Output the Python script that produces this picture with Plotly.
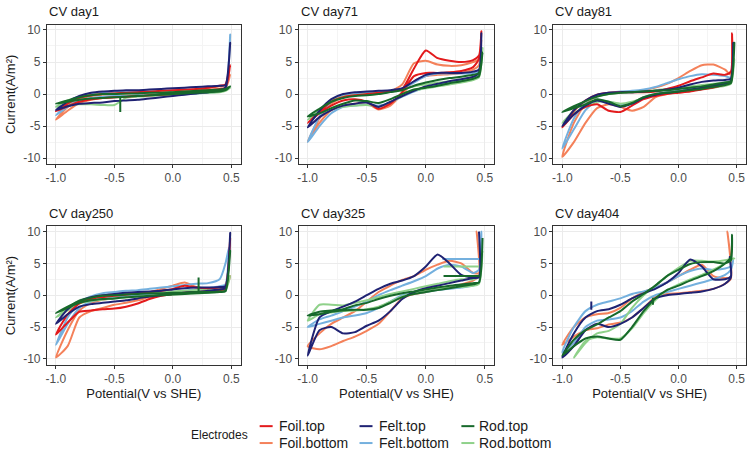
import plotly.graph_objects as go

# ---------------- data ----------------
SERIES = ["Foil.top", "Foil.bottom", "Felt.top", "Felt.bottom", "Rod.top", "Rod.bottom"]
COLORS = ["#E31A1C", "#F4815A", "#1F2273", "#74B0DE", "#17692B", "#8FD18A"]
PANELS = ["CV day1", "CV day71", "CV day81", "CV day250", "CV day325", "CV day404"]

POT = [-1.0, -0.9, -0.8, -0.7, -0.6, -0.5, -0.4, -0.3, -0.2, -0.1, 0.0, 0.1, 0.2, 0.3, 0.4, 0.45]

X_TICKS = [-1.0, -0.5, 0.0, 0.5]
X_TICKTEXT = ["-1.0", "-0.5", "0.0", "0.5"]
Y_TICKS = [-10, -5, 0, 5, 10]
Y_TICKTEXT = ["-10", "-5", "0", "5", "10"]

# forward (anodic) branch values at POT, per series
DAY1_FWD = [
    [-2.7, -1.5, -0.6, -0.2, 0.0, 0.1, 0.2, 0.3, 0.4, 0.5, 0.6, 0.7, 0.8, 1.0, 1.3, 1.5],
    [-4.0, -2.0, -0.8, -0.3, -0.1, 0.0, 0.1, 0.2, 0.3, 0.4, 0.5, 0.6, 0.7, 0.9, 1.2, 1.4],
    [-2.5, -1.2, -0.3, 0.2, 0.4, 0.5, 0.6, 0.6, 0.7, 0.8, 0.9, 1.0, 1.1, 1.2, 1.3, 1.4],
    [-3.3, -1.6, -0.5, 0.1, 0.3, 0.3, 0.3, 0.3, 0.3, 0.3, 0.3, 0.3, 0.4, 0.5, 0.7, 0.9],
    [-1.5, -1.0, -0.5, -0.2, 0.0, 0.0, 0.1, 0.1, 0.2, 0.2, 0.3, 0.4, 0.5, 0.6, 0.7, 0.8],
    [-2.0, -1.0, -0.4, -0.1, 0.0, 0.1, 0.1, 0.2, 0.2, 0.3, 0.3, 0.4, 0.5, 0.6, 0.7, 0.8],
]
DAY1_REV = [
    [-2.7, -1.9, -1.2, -0.8, -0.6, -0.5, -0.4, -0.3, -0.2, -0.1, 0.0, 0.2, 0.4, 0.6, 0.8, 1.0],
    [-4.0, -2.6, -1.4, -0.9, -0.6, -0.5, -0.4, -0.3, -0.2, -0.1, 0.0, 0.1, 0.3, 0.5, 0.7, 0.9],
    [-2.5, -1.9, -1.5, -1.4, -1.3, -1.1, -1.0, -0.9, -0.7, -0.5, -0.3, -0.1, 0.1, 0.3, 0.6, 1.0],
    [-3.3, -2.0, -1.0, -0.6, -0.4, -0.3, -0.3, -0.2, -0.2, -0.1, -0.1, 0.0, 0.1, 0.2, 0.4, 0.6],
    [-1.5, -1.2, -0.9, -0.7, -0.6, -0.5, -0.4, -0.3, -0.2, -0.1, 0.0, 0.1, 0.2, 0.3, 0.4, 0.6],
    [-2.0, -1.7, -1.6, -1.6, -1.7, -1.7, -0.6, -0.4, -0.3, -0.2, -0.1, 0.0, 0.1, 0.2, 0.3, 0.5],
]
DAY1_PEAK = [4.5, 3.0, 8.0, 9.3, 1.2, 1.0]
DAY1_VERTEX = [0.49, 0.49, 0.49, 0.49, 0.49, 0.49]

DAY71_FWD = [
    [-4.5, -2.8, -1.2, -0.5, -0.2, 0.0, 0.2, 0.4, 0.8, 4.0, 6.8, 5.6, 5.2, 5.0, 5.3, 6.0],
    [-7.4, -3.8, -1.5, -0.5, -0.2, 0.0, 0.2, 0.4, 1.5, 4.8, 5.2, 4.6, 4.4, 4.5, 5.0, 5.4],
    [-5.2, -2.6, -0.8, 0.0, 0.3, 0.4, 0.5, 0.6, 0.9, 2.0, 3.0, 3.3, 3.3, 3.3, 3.5, 3.8],
    [-7.5, -3.5, -1.2, -0.3, 0.0, 0.2, 0.3, 0.5, 0.8, 1.8, 2.8, 3.2, 3.2, 3.2, 3.3, 3.5],
    [-3.5, -2.3, -1.2, -0.6, -0.3, -0.2, 0.0, 0.3, 0.6, 1.3, 1.8, 2.2, 2.5, 2.7, 3.0, 3.3],
    [-4.0, -2.5, -1.0, -0.4, -0.2, 0.0, 0.2, 0.4, 0.7, 1.2, 1.5, 1.8, 2.0, 2.3, 2.6, 2.9],
]
DAY71_REV = [
    [-4.5, -3.0, -1.8, -1.0, -0.8, -1.2, -2.3, -1.5, 0.3, 2.8, 3.3, 3.3, 3.4, 3.6, 4.2, 5.5],
    [-7.4, -4.5, -2.5, -1.8, -1.5, -1.4, -2.4, -1.8, 0.0, 2.0, 2.8, 3.0, 3.1, 3.3, 3.8, 4.5],
    [-5.2, -3.6, -2.5, -1.8, -1.5, -1.3, -2.0, -1.2, -0.3, 0.5, 1.2, 1.6, 2.0, 2.3, 2.7, 3.3],
    [-7.5, -5.0, -3.0, -2.0, -1.8, -1.6, -1.8, -1.3, -0.4, 0.4, 1.0, 1.4, 1.8, 2.1, 2.5, 3.0],
    [-3.5, -3.0, -2.2, -1.5, -1.0, -1.1, -1.4, -0.8, 0.0, 0.7, 1.0, 1.3, 1.7, 2.0, 2.4, 2.8],
    [-4.0, -3.0, -2.4, -2.0, -1.8, -1.7, -2.0, -1.3, -0.3, 0.5, 0.9, 1.2, 1.5, 1.8, 2.2, 2.6],
]
DAY71_PEAK = [9.8, 8.5, 9.5, 6.0, 6.5, 7.2]
DAY71_VERTEX = [0.47, 0.47, 0.47, 0.47, 0.48, 0.48]

DAY81_FWD = [
    [-5.2, -2.6, -1.0, -0.1, 0.2, 0.3, 0.3, 0.3, 0.4, 0.8, 1.3, 2.0, 2.6, 3.2, 3.0, 3.5],
    [-9.8, -4.5, -1.5, -0.3, 0.1, 0.2, 0.4, 0.6, 1.0, 1.6, 2.5, 3.6, 4.5, 4.6, 3.8, 3.0],
    [-5.0, -2.5, -1.0, -0.1, 0.2, 0.3, 0.3, 0.4, 0.5, 0.7, 1.0, 1.5, 1.9, 2.1, 2.2, 2.4],
    [-8.5, -3.8, -1.3, -0.2, 0.2, 0.4, 0.5, 0.7, 1.1, 1.7, 2.3, 2.8, 3.1, 3.0, 2.8, 2.6],
    [-2.8, -1.9, -1.1, -0.4, 0.0, 0.2, 0.3, 0.4, 0.5, 0.6, 0.8, 1.0, 1.2, 1.5, 1.8, 2.0],
    [-4.5, -2.6, -1.2, -0.4, 0.0, 0.2, 0.3, 0.4, 0.6, 0.8, 1.0, 1.2, 1.4, 1.6, 1.8, 2.0],
]
DAY81_REV = [
    [-5.2, -3.2, -2.0, -1.6, -2.6, -2.8, -1.8, -0.8, -0.3, 0.0, 0.2, 0.4, 0.7, 1.0, 1.5, 2.0],
    [-9.8, -7.5, -4.5, -2.2, -1.6, -2.0, -2.6, -2.0, -0.5, 0.0, 0.3, 0.6, 1.0, 1.3, 1.7, 2.2],
    [-5.0, -3.2, -1.8, -1.0, -1.5, -2.0, -1.5, -0.6, -0.1, 0.2, 0.4, 0.7, 1.0, 1.3, 1.6, 2.0],
    [-8.5, -5.5, -2.5, -1.0, -1.2, -1.6, -1.3, -0.5, 0.0, 0.3, 0.5, 0.8, 1.1, 1.4, 1.8, 2.1],
    [-2.8, -2.2, -1.6, -0.8, -1.2, -1.9, -1.4, -0.5, 0.0, 0.2, 0.4, 0.6, 0.8, 1.1, 1.4, 1.7],
    [-4.5, -3.0, -2.0, -1.2, -1.2, -1.5, -1.2, -0.6, -0.1, 0.2, 0.4, 0.6, 0.8, 1.0, 1.3, 1.6],
]
DAY81_PEAK = [9.5, 9.0, 8.0, 6.5, 8.0, 5.5]
DAY81_VERTEX = [0.46, 0.46, 0.47, 0.47, 0.48, 0.48]

DAY250_FWD = [
    [-6.2, -3.0, -1.3, -0.6, -0.3, -0.1, 0.1, 0.3, 0.5, 0.7, 1.0, 1.5, 1.2, 1.1, 1.2, 1.4],
    [-9.8, -5.5, -2.4, -1.2, -0.7, -0.4, -0.1, 0.2, 0.5, 1.0, 1.5, 2.0, 1.3, 1.0, 1.0, 1.2],
    [-4.5, -2.2, -0.9, -0.3, 0.0, 0.2, 0.4, 0.5, 0.6, 0.7, 0.9, 1.1, 1.2, 1.2, 1.3, 1.4],
    [-7.8, -3.5, -1.2, -0.2, 0.3, 0.5, 0.7, 0.8, 1.0, 1.2, 1.4, 1.6, 1.8, 1.9, 2.5, 5.0],
    [-2.8, -1.8, -0.9, -0.4, -0.1, 0.0, 0.1, 0.2, 0.3, 0.3, 0.4, 0.4, 0.5, 0.5, 0.6, 0.7],
    [-3.5, -2.0, -0.8, -0.3, 0.0, 0.1, 0.2, 0.3, 0.4, 0.5, 0.6, 0.7, 0.8, 0.9, 1.0, 1.2],
]
DAY250_REV = [
    [-6.2, -4.3, -2.6, -2.4, -2.2, -2.1, -1.8, -1.3, -0.6, -0.1, 0.2, 0.4, 0.5, 0.6, 0.8, 1.0],
    [-9.8, -8.0, -3.5, -2.5, -2.0, -1.5, -1.2, -0.8, -0.3, 0.0, 0.3, 0.5, 0.6, 0.7, 0.8, 1.0],
    [-4.5, -3.0, -1.8, -1.4, -1.2, -1.0, -0.8, -0.5, -0.2, 0.0, 0.2, 0.4, 0.5, 0.7, 0.9, 1.1],
    [-7.8, -4.5, -2.0, -1.0, -0.6, -0.4, -0.2, 0.0, 0.2, 0.4, 0.5, 0.7, 0.9, 1.1, 1.4, 1.7],
    [-2.8, -2.0, -1.2, -0.8, -0.6, -0.5, -0.3, -0.2, -0.1, 0.0, 0.1, 0.2, 0.3, 0.4, 0.5, 0.6],
    [-3.5, -2.4, -1.3, -0.9, -0.7, -0.5, -0.4, -0.2, -0.1, 0.0, 0.1, 0.2, 0.3, 0.4, 0.6, 0.8],
]
DAY250_PEAK = [9.0, 3.0, 9.8, 7.5, 7.0, 3.0]
DAY250_VERTEX = [0.49, 0.49, 0.49, 0.48, 0.49, 0.49]

DAY325_FWD = [
    None,
    [-8.0, -6.0, -4.5, -3.5, -2.5, -1.0, 0.5, 1.5, 2.4, 3.0, 4.0, 4.8, 5.4, 5.0, 3.5, 3.5],
    [-9.5, -3.5, -2.5, -1.8, -1.0, 0.0, 1.0, 1.8, 2.3, 3.0, 4.5, 6.4, 5.0, 3.2, 2.8, 2.8],
    [-5.0, -3.8, -3.2, -2.5, -1.8, -1.0, 0.0, 0.8, 1.5, 2.2, 3.0, 4.2, 4.8, 4.5, 3.5, 4.0],
    [-3.2, -2.6, -2.4, -2.2, -1.6, -1.2, -0.6, -0.1, 0.3, 0.6, 0.9, 1.2, 1.5, 1.7, 1.9, 2.0],
    [-4.0, -1.5, -1.5, -1.6, -1.2, -0.8, -0.3, 0.2, 0.6, 1.0, 1.4, 1.8, 2.2, 2.5, 2.5, 3.0],
]
DAY325_REV = [
    None,
    [-8.0, -8.5, -8.0, -7.2, -6.5, -5.6, -4.5, -2.5, -0.5, 0.2, 0.5, 0.9, 1.3, 1.7, 2.3, 3.0],
    [-9.5, -5.5, -5.0, -6.0, -5.8, -4.8, -4.0, -2.5, -0.6, 0.5, 1.1, 1.5, 1.9, 2.3, 2.7, 2.8],
    [-5.0, -4.5, -4.0, -3.5, -3.2, -2.8, -2.0, -1.0, 0.0, 0.3, 0.5, 0.8, 1.0, 1.2, 1.5, 2.0],
    [-3.2, -3.0, -2.6, -2.4, -2.3, -2.3, -2.0, -1.2, -0.3, 0.2, 0.5, 0.8, 1.1, 1.4, 1.7, 2.0],
    [-4.0, -3.0, -2.7, -2.5, -2.4, -2.2, -1.8, -1.0, -0.2, 0.3, 0.6, 0.9, 1.2, 1.3, 1.5, 1.8],
]
DAY325_PEAK = [None, 10.0, 10.0, 10.0, 9.0, 7.0]
DAY325_VERTEX = [None, 0.43, 0.45, 0.47, 0.48, 0.48]

DAY404_FWD = [
    None,
    [-7.8, -5.0, -3.5, -3.0, -2.8, -2.0, -0.5, 0.5, 1.2, 2.0, 3.0, 4.0, 4.8, 3.0, 2.7, 2.8],
    [-9.8, -6.0, -3.5, -2.5, -2.2, -1.5, -0.5, 0.3, 1.0, 2.0, 3.5, 5.6, 4.5, 2.5, 2.5, 3.0],
    [-9.0, -5.0, -2.5, -1.5, -1.0, -0.5, 0.2, 0.6, 1.2, 2.0, 3.0, 3.8, 4.2, 4.0, 4.2, 4.5],
    [-9.5, -7.0, -5.5, -4.6, -3.5, -2.5, -1.0, 0.2, 1.5, 3.0, 4.0, 4.9, 5.2, 5.2, 5.0, 5.5],
    [None, -9.8, -7.5, -6.0, -5.6, -4.5, -2.0, 0.0, 1.5, 3.0, 4.3, 5.4, 5.4, 5.3, 5.5, 5.7],
]
DAY404_REV = [
    None,
    [-7.8, -6.5, -5.5, -5.2, -4.6, -4.3, -3.5, -2.0, -0.3, 0.2, 0.3, 0.5, 0.7, 1.0, 1.8, 2.6],
    [-9.8, -8.0, -5.5, -4.5, -5.0, -4.5, -3.5, -2.0, -0.5, 0.0, 0.2, 0.4, 0.6, 1.0, 1.8, 2.8],
    [-9.0, -7.5, -5.0, -4.0, -3.8, -3.5, -2.5, -1.0, 0.0, 0.5, 1.0, 1.5, 2.0, 2.5, 3.2, 4.0],
    [-9.5, -8.0, -6.8, -6.5, -6.8, -7.0, -5.0, -2.5, -0.5, 0.8, 1.5, 2.3, 3.0, 3.8, 5.0, 6.0],
    [None, -9.8, -7.2, -6.6, -6.8, -6.8, -5.2, -2.8, -0.8, 0.8, 1.7, 2.5, 3.2, 4.0, 5.0, 5.6],
]
DAY404_PEAK = [None, 10.0, 6.0, 5.5, 9.5, 5.8]
DAY404_VERTEX = [None, 0.42, 0.44, 0.47, 0.46, 0.48]

# short vertical glitches: (panel, series, potential, base current, tip current)
SPIKES = [
    (0, 4, -0.45, -0.5, -2.8),
    (3, 4, 0.22, 0.5, 2.8),
    (5, 2, -0.75, -2.3, -1.0),
    (5, 4, -0.22, -0.4, -1.5),
]
# flat segments after the vertex: (panel, series, potential from, potential to, current)
PLATEAUS = [
    (4, 3, 0.14, 0.46, 5.7),
    (4, 5, 0.15, 0.45, 4.5),
    (4, 4, 0.15, 0.45, 3.0),
]

PANEL_DATA = [
    (DAY1_FWD, DAY1_REV, DAY1_PEAK, DAY1_VERTEX),
    (DAY71_FWD, DAY71_REV, DAY71_PEAK, DAY71_VERTEX),
    (DAY81_FWD, DAY81_REV, DAY81_PEAK, DAY81_VERTEX),
    (DAY250_FWD, DAY250_REV, DAY250_PEAK, DAY250_VERTEX),
    (DAY325_FWD, DAY325_REV, DAY325_PEAK, DAY325_VERTEX),
    (DAY404_FWD, DAY404_REV, DAY404_PEAK, DAY404_VERTEX),
]

# legend layout: 3 columns (Foil, Felt, Rod) x 2 rows (top, bottom)
LEGEND_COL_OF = [0, 0, 1, 1, 2, 2]
LEGEND_ROW_OF = [0, 1, 0, 1, 0, 1]

# ---------------- layout geometry (pixels) ----------------
W, H = 750, 450
COLS_PX = [(46, 240), (298, 494), (553, 746)]
ROWS_PX = [(23, 163), (226, 365)]
XR = [-1.077, 0.58]
YR = [-10.9, 10.8]
LEG_KEY_X = [(259, 272), (359, 372), (461, 474)]
LEG_TEXT_X = [277, 378, 478]
LEG_ROW_Y = [427, 444]

DRAW_ORDER = [1, 3, 5, 0, 2, 4]

fig = go.Figure()
for p, (fwd, rev, peak, vx) in enumerate(PANEL_DATA):
    ax = "" if p == 0 else str(p + 1)
    for s in DRAW_ORDER:
        if fwd[s] is None:
            continue
        xs, ys = [], []
        for x, y in zip(POT, fwd[s]):
            if y is not None:
                xs.append(x); ys.append(y)
        xs.append(vx[s]); ys.append(peak[s])
        for x, y in reversed(list(zip(POT, rev[s]))):
            if y is not None:
                xs.append(x); ys.append(y)
        for (pp, ss, sx, sb, st) in SPIKES:
            if pp == p and ss == s:
                xs += [None, sx, sx]; ys += [None, sb, st]
        for (pp, ss, x0, x1, lv) in PLATEAUS:
            if pp == p and ss == s:
                xs += [None, x0, x1]; ys += [None, lv, lv]
        fig.add_trace(go.Scatter(
            x=xs, y=ys, mode="lines", name=SERIES[s],
            line=dict(color=COLORS[s], width=2, shape="spline", smoothing=0.6),
            connectgaps=False,
            xaxis="x" + ax, yaxis="y" + ax,
            showlegend=False,
            hoverinfo="skip",
        ))

axis_common = dict(
    showline=True, linecolor="#333333", linewidth=1, mirror=True,
    showgrid=True, gridcolor="#EBEBEB", gridwidth=1, zeroline=False,
    ticks="outside", ticklen=3, tickwidth=1, tickcolor="#333333",
    tickfont=dict(size=12, color="#4D4D4D"),
)
annotations = []
shapes = []
for p in range(6):
    r, c = divmod(p, 3)
    x0, x1 = COLS_PX[c]
    y0, y1 = ROWS_PX[r]
    ax = "" if p == 0 else str(p + 1)
    fig.layout["xaxis" + ax] = dict(
        axis_common, domain=[x0 / W, x1 / W], range=XR, anchor="y" + ax,
        tickvals=X_TICKS, ticktext=X_TICKTEXT,
        minor=dict(tickvals=[-0.75, -0.25, 0.25], showgrid=True, gridcolor="#F4F4F4", ticks=""),
        title=dict(text="Potential(V vs SHE)" if r == 1 else "", font=dict(size=13, color="#1A1A1A"), standoff=3),
    )
    fig.layout["yaxis" + ax] = dict(
        axis_common, domain=[1 - y1 / H, 1 - y0 / H], range=YR, anchor="x" + ax,
        tickvals=Y_TICKS, ticktext=Y_TICKTEXT,
        minor=dict(tickvals=[-7.5, -2.5, 2.5, 7.5], showgrid=True, gridcolor="#F4F4F4", ticks=""),
        title=dict(text="Current(A/m²)" if c == 0 else "", font=dict(size=13, color="#1A1A1A"), standoff=4),
    )
    annotations.append(dict(
        text=PANELS[p], xref="paper", yref="paper", x=x0 / W, y=1 - (y0 - 4) / H,
        xanchor="left", yanchor="bottom", showarrow=False,
        font=dict(size=13, color="#1A1A1A"),
    ))

# legend (drawn as keys + labels)
annotations.append(dict(
    text="Electrodes", xref="paper", yref="paper", x=188 / W, y=1 - 436 / H,
    xanchor="left", yanchor="middle", showarrow=False,
    font=dict(size=12, color="#1A1A1A"),
))
for s in range(6):
    col = LEGEND_COL_OF[s]
    yy = 1 - LEG_ROW_Y[LEGEND_ROW_OF[s]] / H
    kx0, kx1 = LEG_KEY_X[col]
    shapes.append(dict(type="line", xref="paper", yref="paper",
                       x0=kx0 / W, x1=kx1 / W, y0=yy, y1=yy,
                       line=dict(color=COLORS[s], width=2)))
    annotations.append(dict(
        text=SERIES[s], xref="paper", yref="paper", x=LEG_TEXT_X[col] / W, y=yy,
        xanchor="left", yanchor="middle", showarrow=False, borderpad=0,
        font=dict(size=14, color="#1A1A1A"),
    ))

fig.update_layout(
    width=W, height=H,
    margin=dict(l=0, r=0, t=0, b=0),
    paper_bgcolor="white", plot_bgcolor="white",
    font=dict(family="Liberation Sans, Arial, sans-serif", color="#1A1A1A"),
    annotations=annotations,
    shapes=shapes,
    showlegend=False,
)

fig.write_html(
    "out.html",
    config={"displayModeBar": False, "staticPlot": True},
    post_script="document.body.style.margin='0';document.body.style.overflow='hidden';",
)
